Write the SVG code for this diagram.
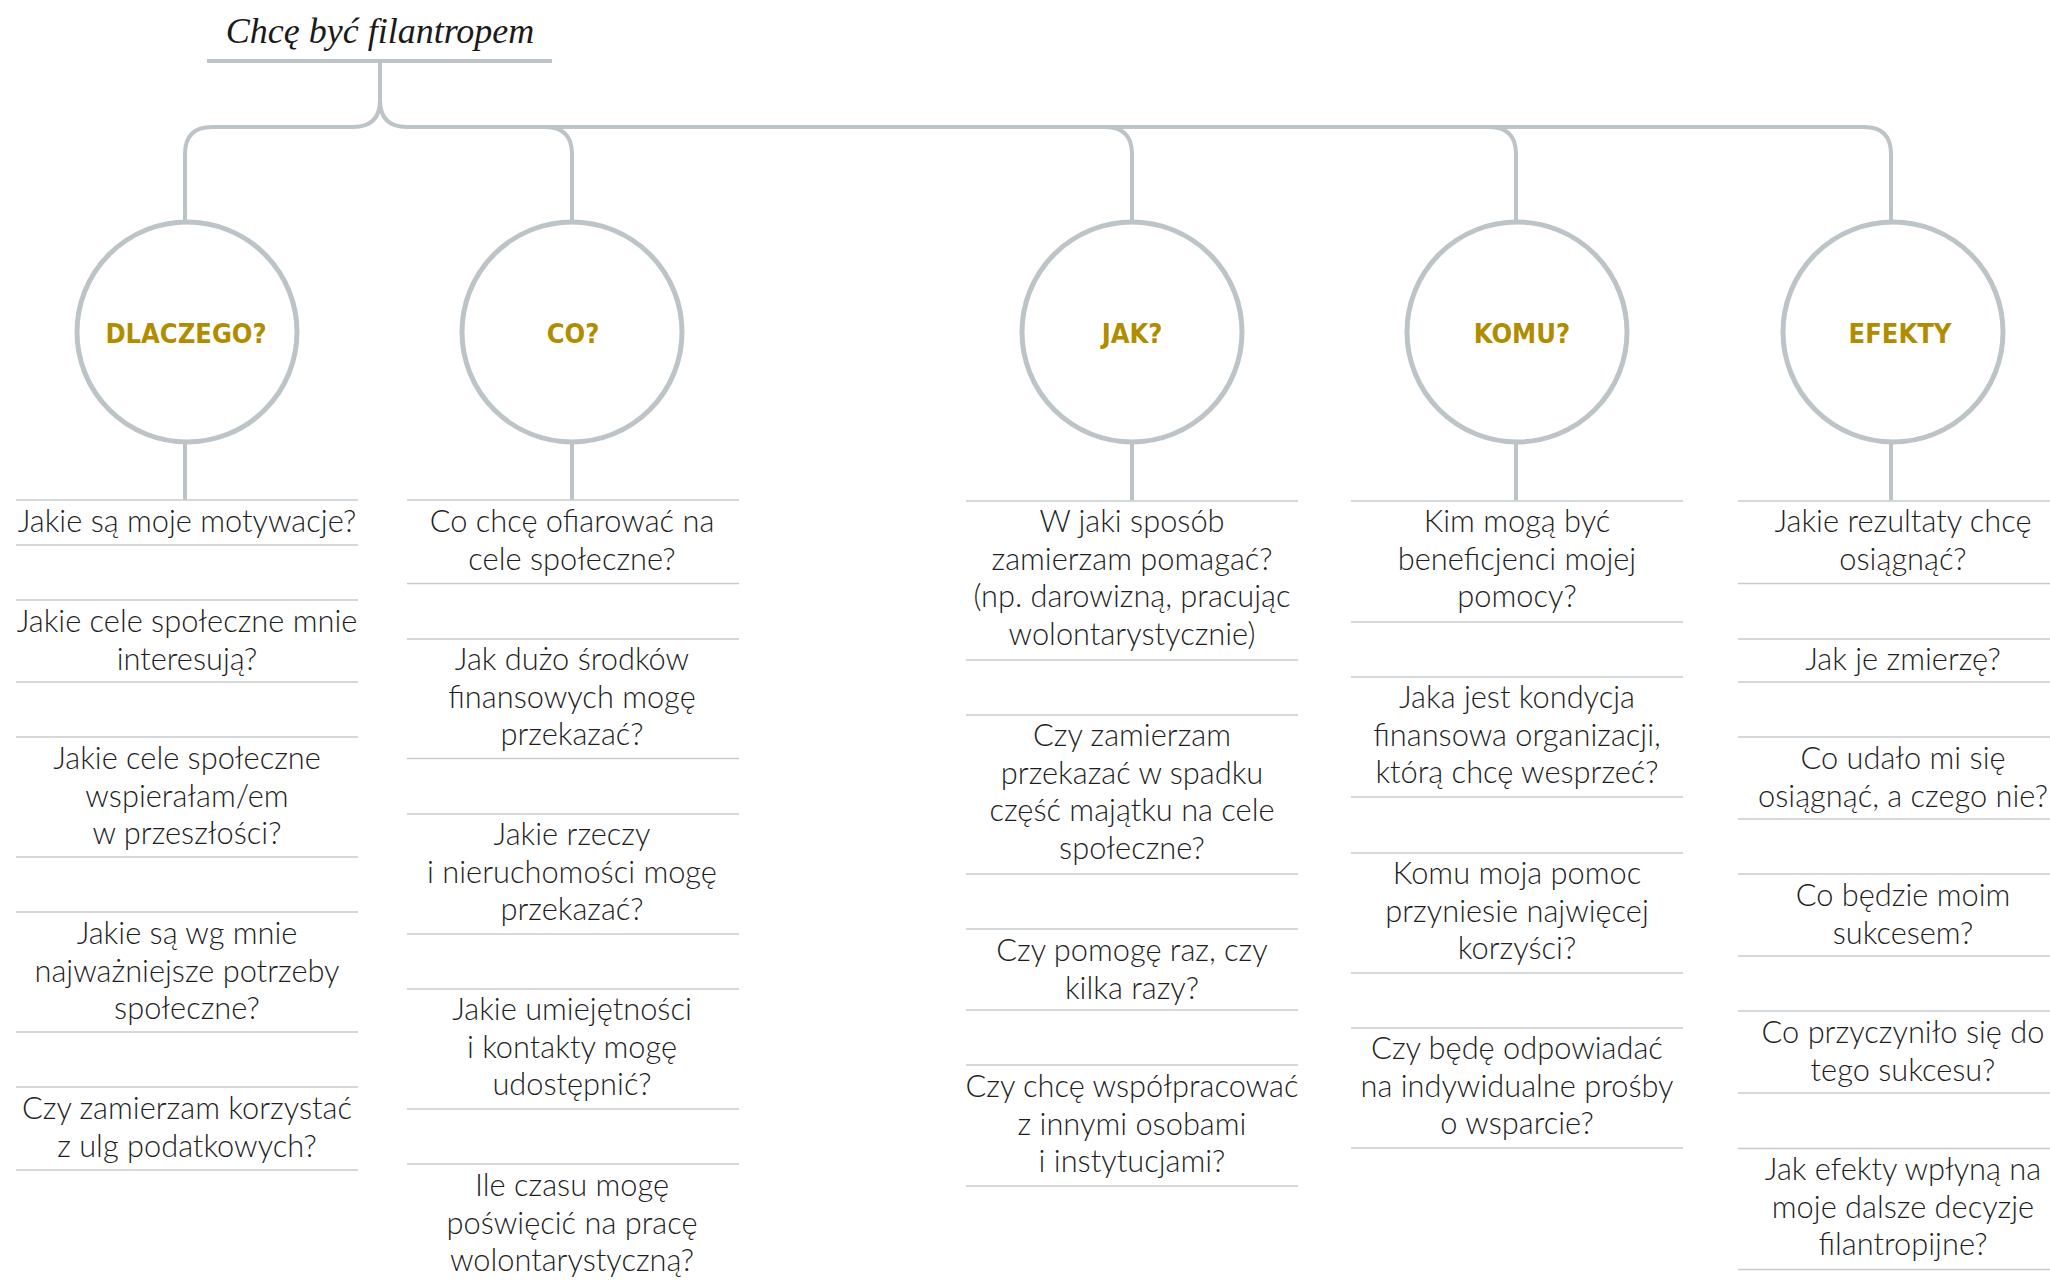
<svg xmlns="http://www.w3.org/2000/svg" width="2050" height="1281" viewBox="0 0 2050 1281">
<style>
.conn{fill:none;stroke:#bdc4c7;stroke-width:4;stroke-linecap:butt}
.circ{fill:#ffffff;stroke:#bdc4c7;stroke-width:5}
.head{font-family:"DejaVu Sans Condensed","DejaVu Sans",sans-serif;font-weight:bold;font-size:27px;fill:#b08d00;text-anchor:middle}
.q{font-family:"Lato","Open Sans",sans-serif;font-weight:300;font-size:30.8px;fill:#1e1e1e;text-anchor:middle}
.sep{stroke:#c6cbce;stroke-width:1.6}
.title{font-family:"Liberation Serif","DejaVu Serif",serif;font-style:italic;font-size:36px;fill:#1a1a1a;text-anchor:middle}
</style>
<rect width="2050" height="1281" fill="#ffffff"/>
<g id="title">
<text class="title" x="380" y="43">Chcę być filantropem</text>
<line x1="207" y1="61" x2="552" y2="61" stroke="#bdc4c7" stroke-width="4"/>
</g>
<g id="connectors">
<path class="conn" d="M380,61 V100 Q380,127 353,127 H212 Q185,127 185,154 V222"/>
<path class="conn" d="M380,100 Q380,127 407,127 H1864 Q1891,127 1891,154 V222"/>
<path class="conn" d="M545,127 Q572,127 572,154 V222"/>
<path class="conn" d="M1105,127 Q1132,127 1132,154 V222"/>
<path class="conn" d="M1489,127 Q1516,127 1516,154 V222"/>
<path class="conn" d="M185,443 V500"/>
<path class="conn" d="M572,443 V500"/>
<path class="conn" d="M1132,443 V500"/>
<path class="conn" d="M1516,443 V500"/>
<path class="conn" d="M1891,443 V500"/>
</g>
<g id="node-dlaczego">
<circle class="circ" cx="187" cy="332" r="110"/>
<text class="head" x="186" y="343">DLACZEGO?</text>
</g>
<g id="node-co">
<circle class="circ" cx="572" cy="332" r="110"/>
<text class="head" x="573" y="343">CO?</text>
</g>
<g id="node-jak">
<circle class="circ" cx="1132" cy="332" r="110"/>
<text class="head" x="1132" y="343">JAK?</text>
</g>
<g id="node-komu">
<circle class="circ" cx="1517" cy="332" r="110"/>
<text class="head" x="1522" y="343">KOMU?</text>
</g>
<g id="node-efekty">
<circle class="circ" cx="1893" cy="332" r="110"/>
<text class="head" x="1900" y="343">EFEKTY</text>
</g>
<g id="questions-dlaczego">
<g class="sep">
<line x1="16" y1="500" x2="358" y2="500"/><line x1="16" y1="545" x2="358" y2="545"/>
<line x1="16" y1="600" x2="358" y2="600"/><line x1="16" y1="682" x2="358" y2="682"/>
<line x1="16" y1="737" x2="358" y2="737"/><line x1="16" y1="857" x2="358" y2="857"/>
<line x1="16" y1="912" x2="358" y2="912"/><line x1="16" y1="1032" x2="358" y2="1032"/>
<line x1="16" y1="1087" x2="358" y2="1087"/><line x1="16" y1="1170" x2="358" y2="1170"/>
</g>
<text class="q" x="187" y="532">Jakie są moje motywacje?</text>
<text class="q" x="187" y="632">Jakie cele społeczne mnie<tspan x="187" dy="37.5">interesują?</tspan></text>
<text class="q" x="187" y="769">Jakie cele społeczne<tspan x="187" dy="37.5">wspierałam/em</tspan><tspan x="187" dy="37.5">w przeszłości?</tspan></text>
<text class="q" x="187" y="944">Jakie są wg mnie<tspan x="187" dy="37.5">najważniejsze potrzeby</tspan><tspan x="187" dy="37.5">społeczne?</tspan></text>
<text class="q" x="187" y="1119">Czy zamierzam korzystać<tspan x="187" dy="37.5">z ulg podatkowych?</tspan></text>
</g>
<g id="questions-co">
<g class="sep">
<line x1="407" y1="500" x2="739" y2="500"/><line x1="407" y1="583.5" x2="739" y2="583.5"/>
<line x1="407" y1="639" x2="739" y2="639"/><line x1="407" y1="758.5" x2="739" y2="758.5"/>
<line x1="407" y1="814" x2="739" y2="814"/><line x1="407" y1="934" x2="739" y2="934"/>
<line x1="407" y1="989" x2="739" y2="989"/><line x1="407" y1="1109" x2="739" y2="1109"/>
<line x1="407" y1="1164" x2="739" y2="1164"/>
</g>
<text class="q" x="572" y="532">Co chcę ofiarować na<tspan x="572" dy="37.5">cele społeczne?</tspan></text>
<text class="q" x="572" y="670">Jak dużo środków<tspan x="572" dy="37.5">finansowych mogę</tspan><tspan x="572" dy="37.5">przekazać?</tspan></text>
<text class="q" x="572" y="845">Jakie rzeczy<tspan x="572" dy="37.5">i nieruchomości mogę</tspan><tspan x="572" dy="37.5">przekazać?</tspan></text>
<text class="q" x="572" y="1020">Jakie umiejętności<tspan x="572" dy="37.5">i kontakty mogę</tspan><tspan x="572" dy="37.5">udostępnić?</tspan></text>
<text class="q" x="572" y="1196">Ile czasu mogę<tspan x="572" dy="37.5">poświęcić na pracę</tspan><tspan x="572" dy="37.5">wolontarystyczną?</tspan></text>
</g>
<g id="questions-jak">
<g class="sep">
<line x1="966" y1="501" x2="1298" y2="501"/><line x1="966" y1="660" x2="1298" y2="660"/>
<line x1="966" y1="715" x2="1298" y2="715"/><line x1="966" y1="874" x2="1298" y2="874"/>
<line x1="966" y1="929" x2="1298" y2="929"/><line x1="966" y1="1010" x2="1298" y2="1010"/>
<line x1="966" y1="1065" x2="1298" y2="1065"/><line x1="966" y1="1186" x2="1298" y2="1186"/>
</g>
<text class="q" x="1132" y="532">W jaki sposób<tspan x="1132" dy="37.5">zamierzam pomagać?</tspan><tspan x="1132" dy="37.5">(np. darowizną, pracując</tspan><tspan x="1132" dy="37.5">wolontarystycznie)</tspan></text>
<text class="q" x="1132" y="746">Czy zamierzam<tspan x="1132" dy="37.5">przekazać w spadku</tspan><tspan x="1132" dy="37.5">część majątku na cele</tspan><tspan x="1132" dy="37.5">społeczne?</tspan></text>
<text class="q" x="1132" y="961">Czy pomogę raz, czy<tspan x="1132" dy="37.5">kilka razy?</tspan></text>
<text class="q" x="1132" y="1097">Czy chcę współpracować<tspan x="1132" dy="37.5">z innymi osobami</tspan><tspan x="1132" dy="37.5">i instytucjami?</tspan></text>
</g>
<g id="questions-komu">
<g class="sep">
<line x1="1351" y1="501" x2="1683" y2="501"/><line x1="1351" y1="622" x2="1683" y2="622"/>
<line x1="1351" y1="677" x2="1683" y2="677"/><line x1="1351" y1="797" x2="1683" y2="797"/>
<line x1="1351" y1="853" x2="1683" y2="853"/><line x1="1351" y1="973" x2="1683" y2="973"/>
<line x1="1351" y1="1028" x2="1683" y2="1028"/><line x1="1351" y1="1148" x2="1683" y2="1148"/>
</g>
<text class="q" x="1517" y="532">Kim mogą być<tspan x="1517" dy="37.5">beneficjenci mojej</tspan><tspan x="1517" dy="37.5">pomocy?</tspan></text>
<text class="q" x="1517" y="708">Jaka jest kondycja<tspan x="1517" dy="37.5">finansowa organizacji,</tspan><tspan x="1517" dy="37.5">którą chcę wesprzeć?</tspan></text>
<text class="q" x="1517" y="884">Komu moja pomoc<tspan x="1517" dy="37.5">przyniesie najwięcej</tspan><tspan x="1517" dy="37.5">korzyści?</tspan></text>
<text class="q" x="1517" y="1059">Czy będę odpowiadać<tspan x="1517" dy="37.5">na indywidualne prośby</tspan><tspan x="1517" dy="37.5">o wsparcie?</tspan></text>
</g>
<g id="questions-efekty">
<g class="sep">
<line x1="1738" y1="501" x2="2050" y2="501"/><line x1="1738" y1="583.5" x2="2050" y2="583.5"/>
<line x1="1738" y1="639" x2="2050" y2="639"/><line x1="1738" y1="682" x2="2050" y2="682"/>
<line x1="1738" y1="737" x2="2050" y2="737"/><line x1="1738" y1="819" x2="2050" y2="819"/>
<line x1="1738" y1="874" x2="2050" y2="874"/><line x1="1738" y1="956" x2="2050" y2="956"/>
<line x1="1738" y1="1011" x2="2050" y2="1011"/><line x1="1738" y1="1093" x2="2050" y2="1093"/>
<line x1="1738" y1="1148.5" x2="2050" y2="1148.5"/><line x1="1738" y1="1269.5" x2="2050" y2="1269.5"/>
</g>
<text class="q" x="1903" y="532">Jakie rezultaty chcę<tspan x="1903" dy="37.5">osiągnąć?</tspan></text>
<text class="q" x="1903" y="670">Jak je zmierzę?</text>
<text class="q" x="1903" y="769">Co udało mi się<tspan x="1903" dy="37.5">osiągnąć, a czego nie?</tspan></text>
<text class="q" x="1903" y="906">Co będzie moim<tspan x="1903" dy="37.5">sukcesem?</tspan></text>
<text class="q" x="1903" y="1043">Co przyczyniło się do<tspan x="1903" dy="37.5">tego sukcesu?</tspan></text>
<text class="q" x="1903" y="1180">Jak efekty wpłyną na<tspan x="1903" dy="37.5">moje dalsze decyzje</tspan><tspan x="1903" dy="37.5">filantropijne?</tspan></text>
</g>
</svg>
